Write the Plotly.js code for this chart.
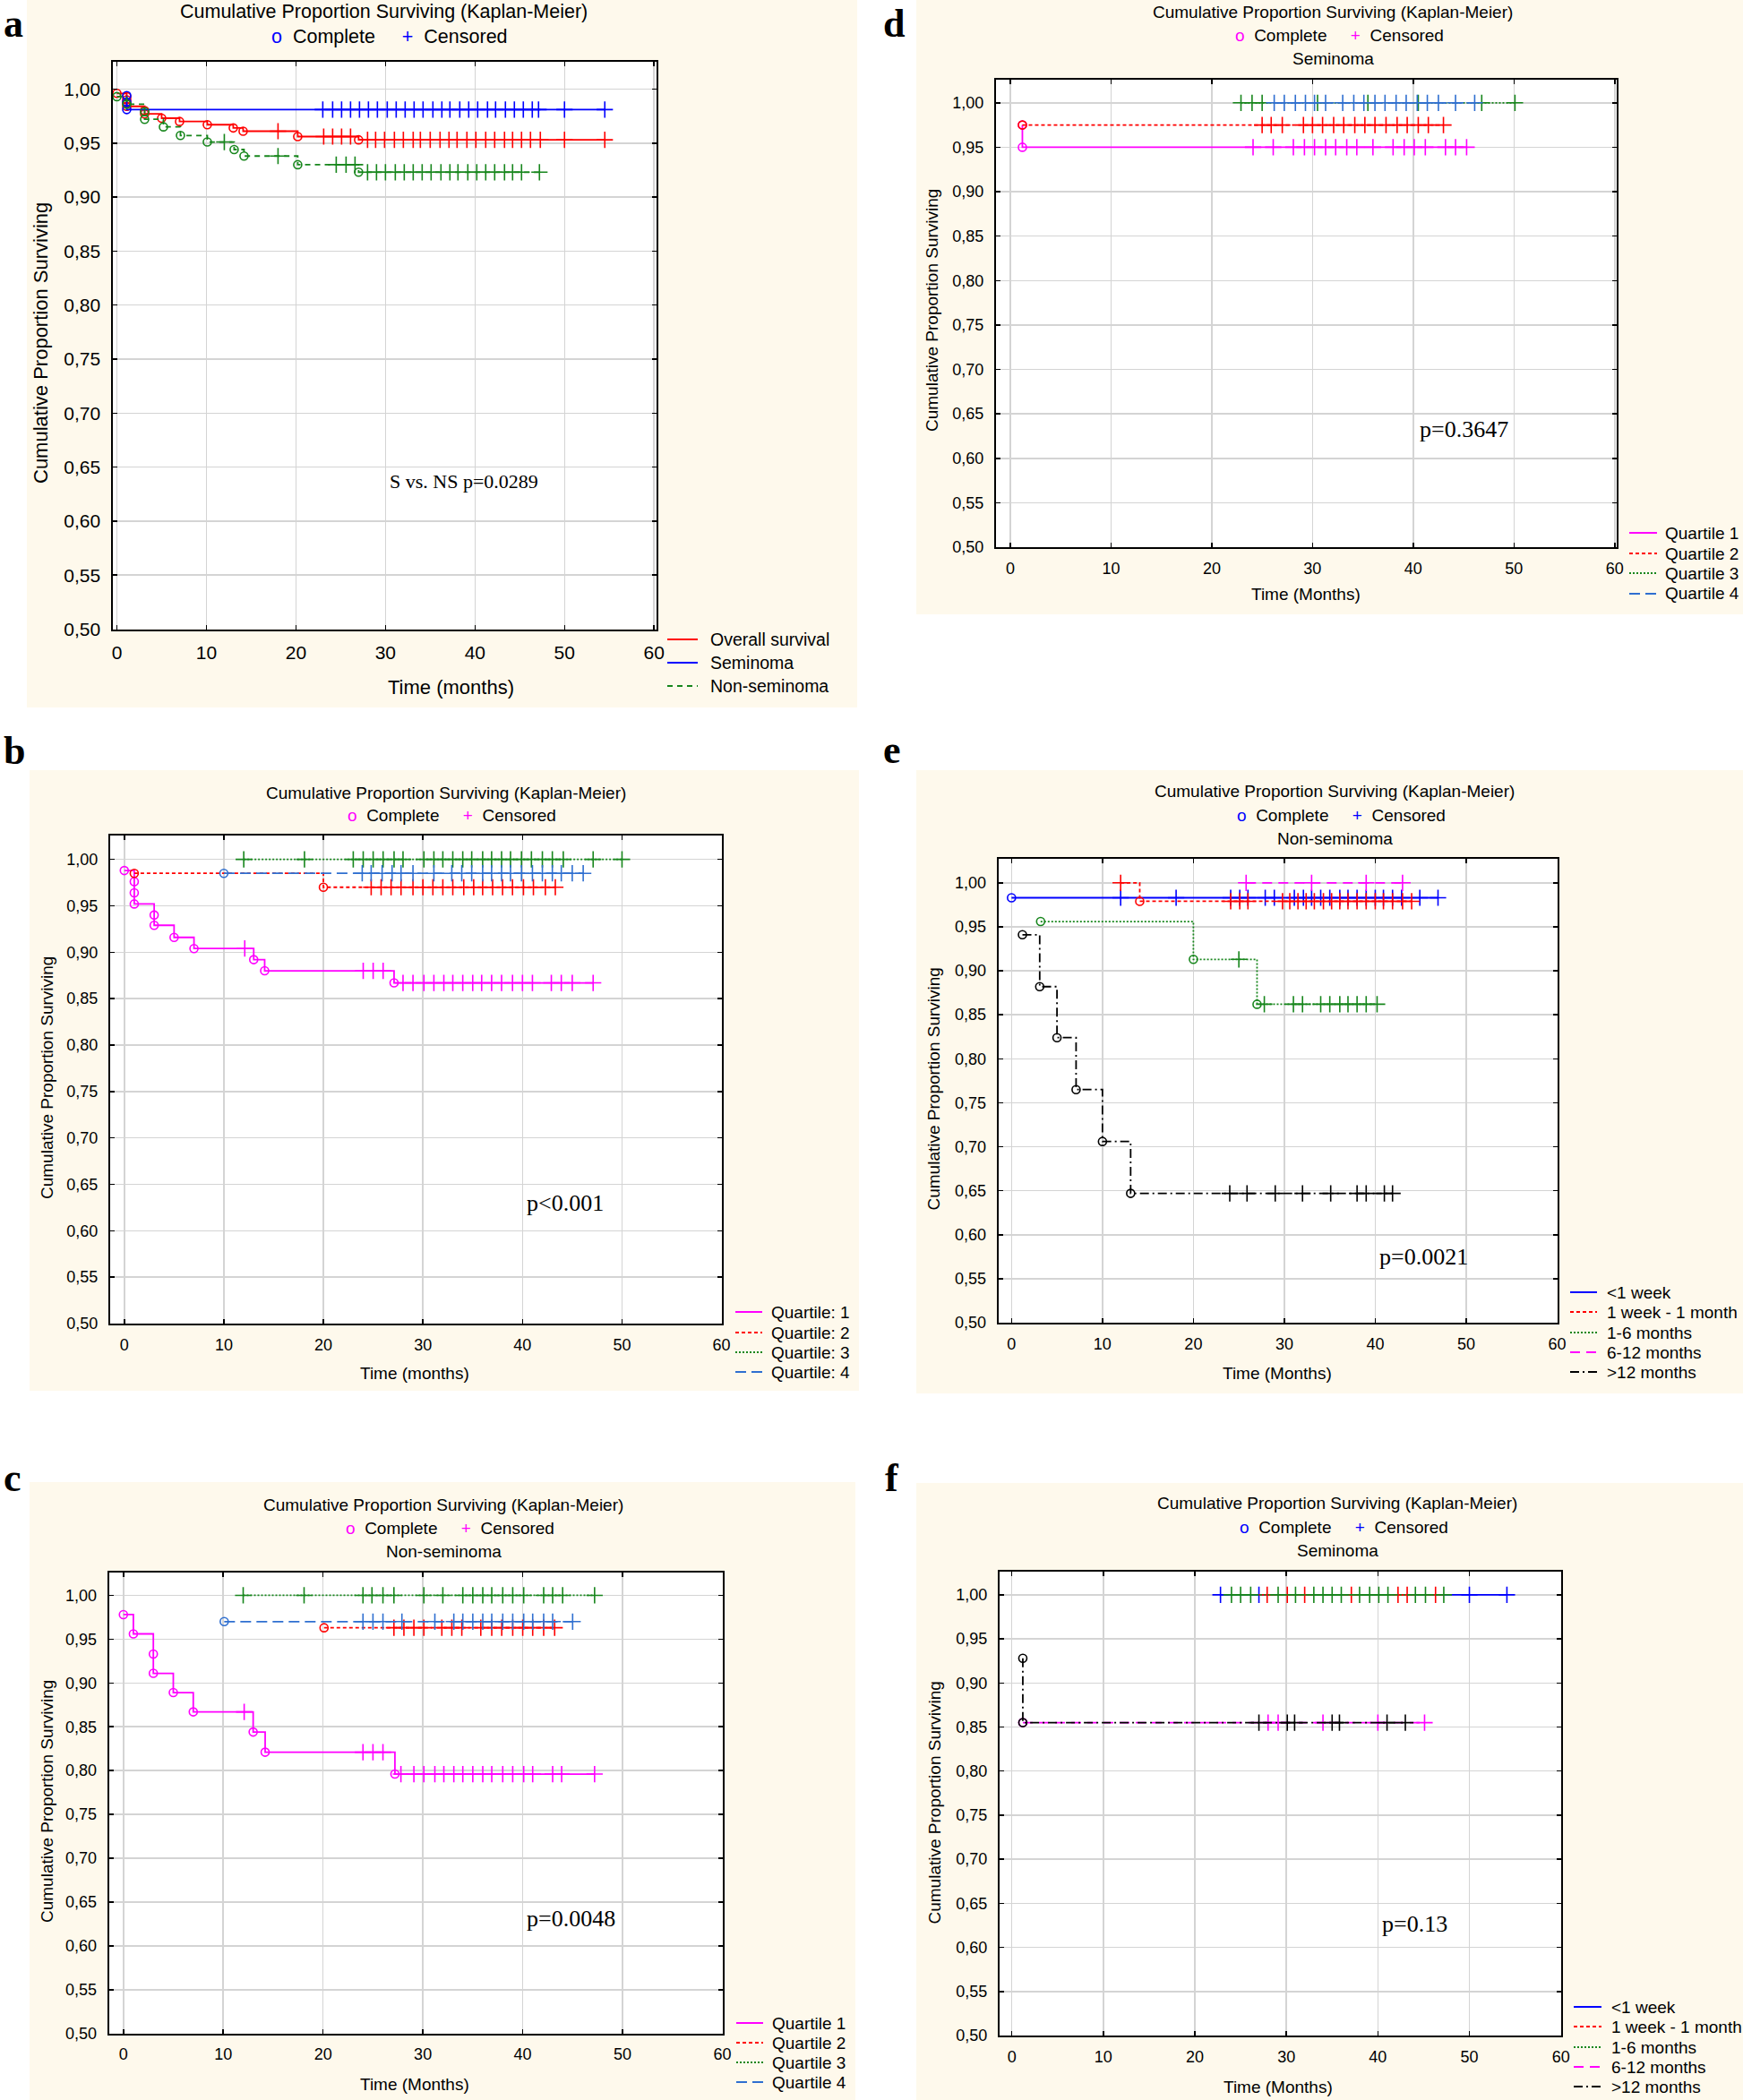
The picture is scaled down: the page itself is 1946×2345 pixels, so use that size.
<!DOCTYPE html>
<html>
<head>
<meta charset="utf-8">
<script src="https://cdn.plot.ly/plotly-3.0.1.min.js"></script>
<style>
  html, body { margin: 0; padding: 0; background: #fff; }
  #fig { width: 1946px; height: 2345px; }
</style>
</head>
<body>
<div id="fig"></div>
<script>
// Six Kaplan-Meier panels (a-f), Statistica look: beige panels, white boxed plots.
// Each curve: event times (circles), survival after each event, censored times (+).

// ---- a: overall / seminoma / non-seminoma ----
const A_OS_T = [0, 1.1, 1.1, 1.1, 1.1, 3.1, 3.1, 5.0, 7.0, 10.1, 13.0, 14.1, 20.2, 27.0];
const A_OS_S = [0.996, 0.993, 0.990, 0.987, 0.984, 0.980, 0.977, 0.973, 0.970, 0.967, 0.964, 0.961, 0.956, 0.953];
const A_OS_C = [18.0, 23.1, 24.1, 25.1, 26.1, 28.0, 28.9, 29.9, 31.0, 32.0, 33.1, 33.9, 35.0, 36.1, 37.1, 38.0, 39.1, 40.1, 41.2, 42.2, 43.3, 44.2, 45.2, 46.2, 47.3, 50.0, 54.5];
const A_SEM_T = [1.1, 1.1, 1.1];
const A_SEM_S = [0.994, 0.988, 0.981];
const A_SEM_C = [23.0, 24.1, 25.1, 26.1, 27.1, 28.1, 29.1, 30.2, 31.2, 32.2, 33.2, 34.2, 35.3, 36.3, 37.2, 38.3, 39.3, 40.3, 41.4, 42.3, 43.4, 44.4, 45.4, 46.4, 47.1, 50.0, 54.5];
const A_NS_T = [0, 1.1, 3.1, 3.1, 5.2, 7.1, 10.1, 13.1, 14.2, 20.2, 27.0];
const A_NS_S = [0.993, 0.986, 0.979, 0.972, 0.965, 0.957, 0.951, 0.944, 0.938, 0.930, 0.923];
const A_NS_C = [12.0, 18.0, 24.5, 25.6, 26.6, 28.0, 29.0, 30.0, 31.1, 32.1, 33.1, 34.1, 35.1, 36.2, 37.2, 38.1, 39.2, 40.2, 41.2, 42.2, 43.3, 44.2, 45.2, 47.2];

// ---- b: quartiles, all patients ----
const B_Q1_T = [0, 1.0, 1.0, 1.0, 3.0, 3.0, 5.0, 7.0, 13.0, 14.1, 27.1];
const B_Q1_S = [0.988, 0.976, 0.964, 0.952, 0.940, 0.929, 0.916, 0.904, 0.892, 0.880, 0.867];
const B_Q1_C = [12.1, 24.0, 25.0, 26.0, 28.0, 29.0, 30.1, 31.1, 32.1, 33.0, 34.0, 35.0, 35.9, 36.9, 37.9, 39.0, 40.0, 41.0, 42.9, 43.9, 45.0, 47.1];
const B_Q2_T = [1.0, 20.0];
const B_Q2_S = [0.985, 0.970];
const B_Q2_C = [24.8, 25.8, 26.8, 27.8, 29.0, 30.0, 31.0, 32.0, 33.0, 34.1, 35.1, 36.0, 37.0, 38.0, 39.0, 40.1, 41.1, 42.3, 43.3];
const B_Q3_T = [];
const B_Q3_S = [];
const B_Q3_C = [12.0, 18.1, 23.0, 24.0, 25.0, 26.0, 27.1, 28.0, 30.1, 31.1, 32.0, 33.0, 34.0, 34.9, 36.0, 36.9, 37.9, 38.8, 39.9, 40.9, 42.0, 43.0, 44.1, 47.1, 50.0];
const B_Q4_T = [10.0];
const B_Q4_S = [0.985];
const B_Q4_C = [23.9, 24.8, 25.9, 26.9, 27.8, 29.0, 31.1, 32.9, 33.9, 34.9, 36.0, 36.9, 37.9, 38.8, 39.9, 41.0, 42.0, 43.0, 43.9, 45.0, 46.1];

// ---- c: quartiles, non-seminoma ----
const C_Q1_T = [0, 1.0, 3.0, 3.0, 5.0, 7.0, 13.0, 14.2, 27.2];
const C_Q1_S = [0.978, 0.956, 0.933, 0.911, 0.889, 0.867, 0.844, 0.821, 0.796];
const C_Q1_C = [12.1, 24.0, 25.0, 26.0, 27.8, 29.1, 30.1, 31.2, 32.1, 33.1, 34.0, 35.0, 36.0, 36.9, 38.0, 39.0, 40.1, 41.0, 43.0, 43.9, 47.2];
const C_Q2_T = [20.1];
const C_Q2_S = [0.963];
const C_Q2_C = [27.1, 28.1, 29.1, 30.1, 31.9, 32.9, 33.9, 35.8, 36.9, 37.9, 39.0, 40.0, 41.0, 42.1, 43.2];
const C_Q3_T = [];
const C_Q3_S = [];
const C_Q3_C = [12.0, 18.1, 24.0, 24.9, 26.0, 27.1, 30.1, 32.0, 34.0, 35.0, 36.0, 36.9, 38.0, 39.0, 40.1, 42.1, 43.0, 44.0, 47.2];
const C_Q4_T = [10.1];
const C_Q4_S = [0.970];
const C_Q4_C = [24.0, 25.0, 26.0, 27.9, 31.2, 33.1, 34.0, 35.0, 36.0, 36.9, 38.0, 39.0, 40.1, 41.0, 42.1, 43.0, 45.0];

// ---- d: quartiles, seminoma ----
const D_Q1_T = [1.2, 1.2];
const D_Q1_S = [0.975, 0.950];
const D_Q1_C = [24.1, 26.1, 28.1, 29.2, 30.2, 31.3, 32.3, 33.4, 34.4, 36.0, 38.0, 39.1, 40.1, 41.2, 43.2, 44.2, 45.3];
const D_Q2_T = [1.2];
const D_Q2_S = [0.975];
const D_Q2_C = [25.0, 25.9, 27.0, 29.1, 30.0, 31.0, 32.1, 33.1, 34.2, 35.2, 36.2, 37.3, 38.4, 39.4, 40.5, 41.5, 43.0];
const D_Q3_T = [];
const D_Q3_S = [];
const D_Q3_C = [22.9, 24.0, 25.0, 30.5, 35.5, 40.5, 46.8, 50.1];
const D_Q4_T = [];
const D_Q4_S = [];
const D_Q4_C = [26.2, 27.2, 28.3, 29.3, 30.2, 31.3, 33.0, 34.1, 35.1, 36.2, 37.2, 38.3, 39.3, 40.4, 41.4, 42.5, 44.2, 46.1];

// ---- e: delay groups, non-seminoma ----
const E_W1_T = [0];
const E_W1_S = [0.983];
const E_W1_C = [12.0, 18.1, 24.1, 25.1, 26.0, 27.9, 28.9, 31.1, 32.1, 33.0, 34.0, 35.0, 36.1, 37.0, 38.0, 39.0, 40.0, 40.9, 41.9, 42.9, 44.9, 46.9];
const E_M1_T = [14.1];
const E_M1_S = [0.979];
const E_M1_C = [12.0, 24.1, 25.1, 26.0, 29.8, 30.6, 31.5, 32.4, 33.3, 34.3, 35.2, 36.1, 37.0, 38.0, 39.0, 40.0, 40.9, 41.9, 43.0, 44.0];
const E_M6_T = [3.2, 20.0, 27.0];
const E_M6_S = [0.956, 0.913, 0.862];
const E_M6_C = [25.0, 27.8, 31.0, 32.0, 34.0, 35.0, 36.1, 37.0, 38.0, 39.0, 40.2];
const E_M12_T = [];
const E_M12_S = [];
const E_M12_C = [25.8, 33.0, 39.0, 43.0];
const E_GT12_T = [1.2, 3.1, 5.0, 7.1, 10.0, 13.1];
const E_GT12_S = [0.941, 0.882, 0.824, 0.765, 0.706, 0.647];
const E_GT12_C = [24.0, 25.9, 29.0, 32.0, 35.1, 38.0, 39.0, 41.0, 41.9];

// ---- f: delay groups, seminoma ----
const F_W1_T = [];
const F_W1_S = [];
const F_W1_C = [22.8, 27.0, 50.0, 54.1];
const F_M1_T = [];
const F_M1_S = [];
const F_M1_C = [27.9, 30.1, 32.0, 37.1, 42.2, 43.2, 46.3];
const F_M6_T = [];
const F_M6_S = [];
const F_M6_C = [24.0, 25.0, 26.1, 29.1, 31.0, 33.0, 34.0, 35.0, 36.0, 38.0, 39.1, 40.1, 41.1, 44.1, 45.2, 47.2];
const F_M12_T = [1.2];
const F_M12_S = [0.855];
const F_M12_C = [28.0, 29.1, 34.0, 40.0, 45.1];
const F_GT12_T = [1.2, 1.2];
const F_GT12_S = [0.928, 0.855];
const F_GT12_C = [27.0, 30.1, 30.9, 35.0, 35.8, 41.0, 43.0];

const QUARTILE_B = ["Quartile: 1", "Quartile: 2", "Quartile: 3", "Quartile: 4"];
const QUARTILE = ["Quartile 1", "Quartile 2", "Quartile 3", "Quartile 4"];
const DELAY = ["&lt;1 week", "1 week - 1 month", "1-6 months", "6-12 months", "&gt;12 months"];

// ---------------- look ----------------
const W = 1946, H = 2345;
const SANS = "Liberation Sans, Arial, sans-serif";
const SERIF = "Liberation Serif, Times New Roman, serif";
const BEIGE = "#fef9ec";
const RED = "#ff0000", BLUE = "#0000ff", GREEN = "#17861c", MAGENTA = "#ff00ff", QBLUE = "#2f6fd0", BLACK = "#000000";
const TITLE = "Cumulative Proportion Surviving (Kaplan-Meier)";
const YTITLE = "Cumulative Proportion Surviving";

const DASH = {
  solid: "solid",
  short: "4px,3px",
  dotted: "2px,2px",
  long: "12px,6px",
  mag: "11px,7px",
  dashdot: "10px,4px,2px,4px",
  aGreen: "6px,5px",
};

function quartiles(names, d) {
  return [
    { name: names[0], t: d[0][0], s: d[0][1], c: d[0][2], color: MAGENTA, dash: DASH.solid },
    { name: names[1], t: d[1][0], s: d[1][1], c: d[1][2], color: RED, dash: DASH.short },
    { name: names[2], t: d[2][0], s: d[2][1], c: d[2][2], color: GREEN, dash: DASH.dotted },
    { name: names[3], t: d[3][0], s: d[3][1], c: d[3][2], color: QBLUE, dash: DASH.long },
  ];
}
function delays(d) {
  return [
    { name: DELAY[0], t: d[0][0], s: d[0][1], c: d[0][2], color: BLUE, dash: DASH.solid },
    { name: DELAY[1], t: d[1][0], s: d[1][1], c: d[1][2], color: RED, dash: DASH.short },
    { name: DELAY[2], t: d[2][0], s: d[2][1], c: d[2][2], color: GREEN, dash: DASH.dotted },
    { name: DELAY[3], t: d[3][0], s: d[3][1], c: d[3][2], color: MAGENTA, dash: DASH.mag },
    { name: DELAY[4], t: d[4][0], s: d[4][1], c: d[4][2], color: BLACK, dash: DASH.dashdot },
  ];
}

// geometry in page pixels: frame = [left, top, right, bottom]
// letterAt = [x, y, anchor]; top-row letters hang from the page edge
const PANELS = [
  {
    letter: "a", letterAt: [2, 0, "top"], bg: [30, 0, 957, 790],
    frame: [126.4, 69.3, 733.2, 702.5], xr: [-0.41, 60.3], yr: [0.5, 1.025],
    tick: 21, headSize: 21.5, markColor: BLUE, cx: 428,
    heads: [[TITLE, 13], ["cc", 41.5]],
    ytitle: [45, 383, 22], xtitle: ["Time (months)", 503, 767, 22],
    pval: ["S vs. NS p=0.0289", 517.5, 537, 22],
    legend: { x0: 745, x1: 779, tx: 791, ys: [714, 740, 766], size: 19.5 },
    series: [
      { name: "Overall survival", t: A_OS_T, s: A_OS_S, c: A_OS_C, color: RED, dash: DASH.solid },
      { name: "Seminoma", t: A_SEM_T, s: A_SEM_S, c: A_SEM_C, color: BLUE, dash: DASH.solid },
      { name: "Non-seminoma", t: A_NS_T, s: A_NS_S, c: A_NS_C, color: GREEN, dash: DASH.aGreen },
    ],
  },
  {
    letter: "d", letterAt: [984, 0, "top"], bg: [1023, 0, 1946, 686],
    frame: [1112, 89, 1805, 611], xr: [-1.42, 60.2], yr: [0.5, 1.026],
    tick: 18, headSize: 19, markColor: MAGENTA, cx: 1488,
    heads: [[TITLE, 13.3], ["cc", 39.3], ["Seminoma", 65]],
    ytitle: [1040, 347, 19], xtitle: ["Time (Months)", 1458, 664, 19],
    pval: ["p=0.3647", 1634, 479, 26],
    legend: { x0: 1819, x1: 1850, tx: 1857, ys: [595, 618, 640, 663], size: 19 },
    series: quartiles(QUARTILE, [[D_Q1_T, D_Q1_S, D_Q1_C], [D_Q2_T, D_Q2_S, D_Q2_C], [D_Q3_T, D_Q3_S, D_Q3_C], [D_Q4_T, D_Q4_S, D_Q4_C]]),
  },
  {
    letter: "b", letterAt: [2, 839, "middle"], bg: [33, 860, 959, 1553],
    frame: [123, 932.7, 805.6, 1478], xr: [-1.42, 60], yr: [0.5, 1.026],
    tick: 18, headSize: 19, markColor: MAGENTA, cx: 498,
    heads: [[TITLE, 885], ["cc", 910.7]],
    ytitle: [52, 1204, 19], xtitle: ["Time (months)", 463, 1533, 19],
    pval: ["p&lt;0.001", 630.5, 1343, 26],
    legend: { x0: 821, x1: 851, tx: 859, ys: [1465, 1488, 1510, 1532], size: 19 },
    series: quartiles(QUARTILE_B, [[B_Q1_T, B_Q1_S, B_Q1_C], [B_Q2_T, B_Q2_S, B_Q2_C], [B_Q3_T, B_Q3_S, B_Q3_C], [B_Q4_T, B_Q4_S, B_Q4_C]]),
  },
  {
    letter: "e", letterAt: [984, 838, "middle"], bg: [1023, 860, 1946, 1556],
    frame: [1114.6, 959.3, 1738.5, 1477], xr: [-1.45, 60], yr: [0.5, 1.027],
    tick: 18, headSize: 19, markColor: BLUE, cx: 1490,
    heads: [[TITLE, 883], ["cc", 910], ["Non-seminoma", 936.7]],
    ytitle: [1042.5, 1216, 19], xtitle: ["Time (Months)", 1426, 1533, 19],
    pval: ["p=0.0021", 1589, 1403, 26],
    legend: { x0: 1753, x1: 1783, tx: 1792, ys: [1443, 1465, 1488, 1510, 1532], size: 19 },
    series: delays([[E_W1_T, E_W1_S, E_W1_C], [E_M1_T, E_M1_S, E_M1_C], [E_M6_T, E_M6_S, E_M6_C], [E_M12_T, E_M12_S, E_M12_C], [E_GT12_T, E_GT12_S, E_GT12_C]]),
  },
  {
    letter: "c", letterAt: [2, 1650, "middle"], bg: [33, 1655, 955, 2345],
    frame: [121.6, 1756, 806.5, 2270.7], xr: [-1.45, 60], yr: [0.5, 1.026],
    tick: 18, headSize: 19, markColor: MAGENTA, cx: 495,
    heads: [[TITLE, 1680], ["cc", 1706], ["Non-seminoma", 1732.7]],
    ytitle: [52, 2012, 19], xtitle: ["Time (Months)", 463, 2327, 19],
    pval: ["p=0.0048", 637, 2142, 26],
    legend: { x0: 822, x1: 852, tx: 860, ys: [2259, 2281, 2303, 2325], size: 19 },
    series: quartiles(QUARTILE, [[C_Q1_T, C_Q1_S, C_Q1_C], [C_Q2_T, C_Q2_S, C_Q2_C], [C_Q3_T, C_Q3_S, C_Q3_C], [C_Q4_T, C_Q4_S, C_Q4_C]]),
  },
  {
    letter: "f", letterAt: [986, 1650, "middle"], bg: [1023, 1656, 1946, 2345],
    frame: [1115.8, 1755.3, 1742.7, 2273], xr: [-1.36, 60], yr: [0.5, 1.026],
    tick: 18, headSize: 19, markColor: BLUE, cx: 1493,
    heads: [[TITLE, 1678], ["cc", 1705], ["Seminoma", 1731.7]],
    ytitle: [1042.5, 2013, 19], xtitle: ["Time (Months)", 1427, 2330, 19],
    pval: ["p=0.13", 1579.5, 2148, 26],
    legend: { x0: 1757, x1: 1788, tx: 1797, ys: [2241, 2263, 2286, 2308, 2330], size: 19 },
    series: delays([[F_W1_T, F_W1_S, F_W1_C], [F_M1_T, F_M1_S, F_M1_C], [F_M6_T, F_M6_S, F_M6_C], [F_M12_T, F_M12_S, F_M12_C], [F_GT12_T, F_GT12_S, F_GT12_C]]),
  },
];

// ---------------- KM helpers ----------------
function survAt(t, evtT, evtS) {
  let s = 1;
  for (let i = 0; i < evtT.length; i++) if (evtT[i] <= t) s = evtS[i];
  return s;
}

// all observations sorted; drawn with shape 'hv' this is the KM staircase
function stepPoints(evtT, evtS, cenT) {
  const pts = evtT.map((t, i) => ({ t, s: evtS[i], k: 0, i }))
    .concat(cenT.map((t, i) => ({ t, s: survAt(t, evtT, evtS), k: 1, i })));
  pts.sort((a, b) => a.t - b.t || a.k - b.k || a.i - b.i);
  return { x: pts.map((p) => p.t), y: pts.map((p) => p.s) };
}

function kmTraces(ser, xa, ya) {
  const base = { type: "scatter", xaxis: xa, yaxis: ya, showlegend: false, hoverinfo: "skip", cliponaxis: false };
  const line = stepPoints(ser.t, ser.s, ser.c);
  return [
    { ...base, mode: "lines", x: line.x, y: line.y,
      line: { color: ser.color, width: 1.8, dash: ser.dash, shape: "hv" } },
    { ...base, mode: "markers", x: ser.t, y: ser.s,
      marker: { symbol: "circle-open", size: 9, color: ser.color, line: { width: 1.6, color: ser.color } } },
    { ...base, mode: "markers", x: ser.c, y: ser.c.map((t) => survAt(t, ser.t, ser.s)),
      marker: { symbol: "cross-thin-open", size: 13, color: ser.color, line: { width: 1.6, color: ser.color } } },
  ];
}

const px = (x) => x / W;
const py = (y) => 1 - y / H;

function ann(text, x, y, size, extra) {
  return Object.assign({
    xref: "paper", yref: "paper", x: px(x), y: py(y), text, showarrow: false,
    xanchor: "center", yanchor: "middle",
    font: { family: SANS, size, color: "#000" },
  }, extra || {});
}

// ---------------- build ----------------
const traces = [];
const shapes = [];
const annotations = [];
const layout = {
  width: W, height: H,
  margin: { l: 0, r: 0, t: 0, b: 0 },
  paper_bgcolor: "#ffffff", plot_bgcolor: "#ffffff",
  separators: ",.",
  showlegend: false,
  font: { family: SANS, color: "#000" },
};

// beige panels first, then white plot boxes on top of them
PANELS.forEach((p) => {
  const [x0, y0, x1, y1] = p.bg;
  shapes.push({ type: "rect", xref: "paper", yref: "paper", layer: "below",
    x0: px(x0), x1: px(x1), y0: py(y1), y1: py(y0), fillcolor: BEIGE, line: { width: 0 } });
});

PANELS.forEach((p, i) => {
  const n = i + 1;
  const xa = n === 1 ? "x" : "x" + n;
  const ya = n === 1 ? "y" : "y" + n;
  const [l, t, r, b] = p.frame;

  shapes.push({ type: "rect", xref: "paper", yref: "paper", layer: "below",
    x0: px(l), x1: px(r), y0: py(b), y1: py(t), fillcolor: "#ffffff", line: { width: 0 } });

  const common = {
    showline: true, mirror: "ticks", linecolor: "#000", linewidth: 2,
    showgrid: true, gridcolor: "#d4d4d4", gridwidth: 1.5, zeroline: false,
    ticks: "inside", ticklen: 5, tickwidth: 1.5, tickcolor: "#000",
    tickfont: { family: SANS, size: p.tick, color: "#000" },
    fixedrange: true,
  };
  layout["xaxis" + (n === 1 ? "" : n)] = {
    ...common, domain: [px(l), px(r)], range: p.xr, tick0: 0, dtick: 10,
    anchor: ya, ticklabelstandoff: 6,
  };
  layout["yaxis" + (n === 1 ? "" : n)] = {
    ...common, domain: [py(b), py(t)], range: p.yr, tick0: 0.5, dtick: 0.05,
    tickformat: ".2f", anchor: xa, ticklabelstandoff: 8,
  };

  p.series.forEach((s) => traces.push(...kmTraces(s, xa, ya)));

  // headers
  p.heads.forEach(([text, y]) => {
    if (text === "cc") {
      const c = p.markColor;
      const cc = `<span style="color:${c}">o</span>&nbsp;&nbsp;Complete&nbsp;&nbsp;&nbsp;&nbsp;&nbsp;` +
        `<span style="color:${c}">+</span>&nbsp;&nbsp;Censored`;
      annotations.push(ann(cc, p.cx + 7, y, p.headSize));
    } else {
      annotations.push(ann(text, p.cx, y, p.headSize));
    }
  });

  annotations.push(ann(YTITLE, p.ytitle[0], p.ytitle[1], p.ytitle[2], { textangle: -90 }));
  annotations.push(ann(p.xtitle[0], p.xtitle[1], p.xtitle[2], p.xtitle[3]));
  annotations.push(ann(p.pval[0], p.pval[1], p.pval[2], p.pval[3],
    { font: { family: SERIF, size: p.pval[3], color: "#000" } }));
  annotations.push(ann(p.letter, p.letterAt[0], p.letterAt[1], 44,
    { xanchor: "left", yanchor: p.letterAt[2], font: { family: SERIF, size: 44, color: "#000", weight: "bold" } }));

  // legend block, bottom right of each panel
  const lg = p.legend;
  p.series.forEach((s, k) => {
    const y = lg.ys[k];
    shapes.push({ type: "line", xref: "paper", yref: "paper",
      x0: px(lg.x0), x1: px(lg.x1), y0: py(y), y1: py(y),
      line: { color: s.color, width: 2, dash: s.dash } });
    annotations.push(ann(s.name, lg.tx, y, lg.size, { xanchor: "left" }));
  });
});

layout.shapes = shapes;
layout.annotations = annotations;

Plotly.newPlot("fig", traces, layout, { staticPlot: true, displayModeBar: false });
</script>
</body>
</html>
